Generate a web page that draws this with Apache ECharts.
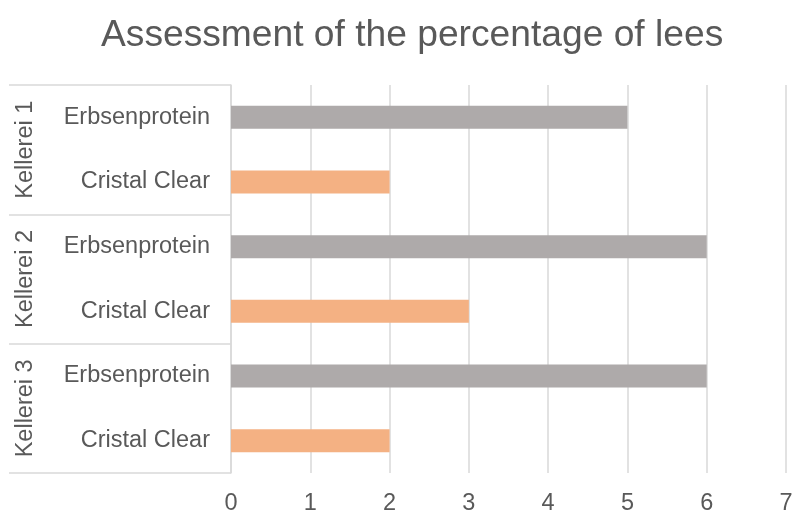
<!DOCTYPE html>
<html><head><meta charset="utf-8">
<script src="https://cdn.jsdelivr.net/npm/echarts@6/dist/echarts.min.js"></script>
<style>html,body{margin:0;padding:0;background:#fff}#c{width:795px;height:511px}</style>
</head><body><div id="c"></div>
<script>
var groups = ["Kellerei 1", "Kellerei 2", "Kellerei 3"];
var products = ["Erbsenprotein", "Cristal Clear"];
var erbsenprotein = [5, 6, 6];
var cristalClear = [2, 3, 2];
var xTicks = [0, 1, 2, 3, 4, 5, 6, 7];

var colors = {"Erbsenprotein": "#aeaaaa", "Cristal Clear": "#f4b183"};
var cats = [], data = [];
groups.forEach(function (g, i) {
  cats.push(products[0]); data.push({value: erbsenprotein[i], itemStyle: {color: colors[products[0]]}});
  cats.push(products[1]); data.push({value: cristalClear[i], itemStyle: {color: colors[products[1]]}});
});
var font = "Liberation Sans, Arial, sans-serif";
var chart = echarts.init(document.getElementById('c'));
chart.setOption({
  animation: false,
  title: {text: "Assessment of the percentage of lees", left: 96, top: 12,
    textStyle: {fontFamily: font, fontSize: 37.2, fontWeight: 'normal', color: '#595959'}},
  grid: {left: 231, right: 9, top: 85, bottom: 38, containLabel: false, outerBoundsMode: 'none'},
  xAxis: {type: 'value', min: xTicks[0], max: xTicks[xTicks.length - 1], interval: 1,
    axisLine: {show: false}, axisTick: {show: false},
    splitLine: {lineStyle: {color: '#d9d9d9', width: 1.5}},
    axisLabel: {margin: 19, fontFamily: font, fontSize: 23.5, color: '#595959'}},
  yAxis: [
    {type: 'category', data: cats, inverse: true,
      axisLine: {lineStyle: {color: '#d9d9d9', width: 1.5}}, axisTick: {show: false},
      axisLabel: {margin: 21, fontFamily: font, fontSize: 23.5, color: '#595959'}},
    {type: 'category', data: groups, inverse: true, position: 'left',
      axisLine: {show: false},
      axisTick: {show: true, length: 222, interval: 0, lineStyle: {color: '#d9d9d9', width: 1.5}},
      axisLabel: {margin: 193, rotate: 90, interval: 0, fontFamily: font, fontSize: 23.5, color: '#595959'}}
  ],
  series: [{type: 'bar', yAxisIndex: 0, data: data, barWidth: 23}]
});
</script></body></html>
